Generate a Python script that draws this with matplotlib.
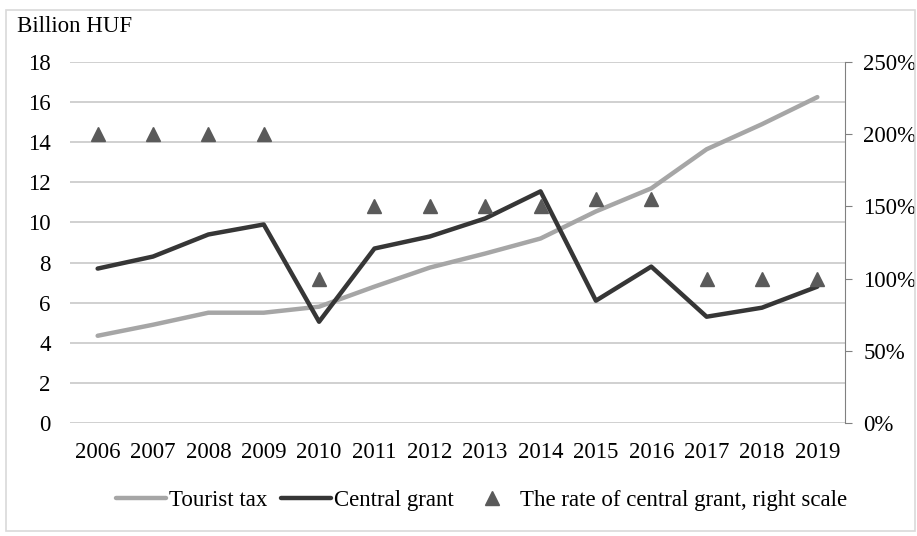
import numpy as np
import matplotlib
matplotlib.use("Agg")
import matplotlib.pyplot as plt
from matplotlib.patches import Rectangle
from matplotlib.ticker import FuncFormatter

years = [str(y) for y in range(2006, 2020)]
tourist_tax = [4.35, 4.9, 5.5, 5.5, 5.8, 6.8, 7.75, 8.45, 9.2, 10.55, 11.7, 13.65, 14.9, 16.25]
central_grant = [7.7, 8.3, 9.4, 9.9, 5.05, 8.7, 9.3, 10.2, 11.55, 6.1, 7.8, 5.3, 5.75, 6.8]
grant_rate = [2.0, 2.0, 2.0, 2.0, 1.0, 1.5, 1.5, 1.5, 1.5, 1.55, 1.55, 1.0, 1.0, 1.0]

plt.rcParams['font.family'] = ['Liberation Serif', 'DejaVu Serif']
plt.rcParams['font.size'] = 16.5

fig = plt.figure(figsize=(9.17, 5.36), dpi=100)
ax = fig.add_axes([0.0763, 0.2108, 0.8452, 0.6735])
x = np.arange(len(years))

ax.set_ylim(0, 18)
ax.set_yticks(range(0, 19, 2))
ax.set_xlim(-0.5, len(years) - 0.5)
ax.set_xticks(x)
ax.set_xticklabels(years)
ax.grid(axis='y', color='#d0d0d0', lw=1.4)
ax.set_axisbelow(True)
for s in ax.spines.values():
    s.set_visible(False)
ax.tick_params(length=0, pad=14)
ax.tick_params(axis='x', pad=14)

l1, = ax.plot(x, tourist_tax, color='#a6a6a6', lw=3.2, label='Tourist tax', solid_capstyle='round')
l2, = ax.plot(x, central_grant, color='#363636', lw=3.2, label='Central grant', solid_capstyle='round')

ax2 = ax.twinx()
ax2.set_ylim(0, 2.5)
ax2.set_yticks(np.arange(0, 2.51, 0.5))
ax2.yaxis.set_major_formatter(FuncFormatter(lambda v, p: f"{v*100:.0f}%"))
for k in ['top', 'left', 'bottom']:
    ax2.spines[k].set_visible(False)
ax2.spines['right'].set_color('#808080')
ax2.tick_params(axis='y', length=5, color='#808080', pad=8)
l3, = ax2.plot(x, grant_rate, ls='none', marker='^', ms=10, color='#5a5a5a',
               label='The rate of central grant, right scale')

ax.text(-0.068, 1.097, 'Billion HUF', transform=ax.transAxes, ha='left', va='center')

fig.legend(handles=[l1, l2, l3], loc='center', bbox_to_anchor=(0.525, 0.067), ncol=3,
           frameon=False, handlelength=2.2, handletextpad=0.1, columnspacing=0.6)

fig.patches.append(Rectangle((0.007, 0.01), 0.991, 0.972, transform=fig.transFigure,
                             fill=False, edgecolor='#d9d9d9', lw=1.2))

fig.savefig('out.png', dpi=100)
